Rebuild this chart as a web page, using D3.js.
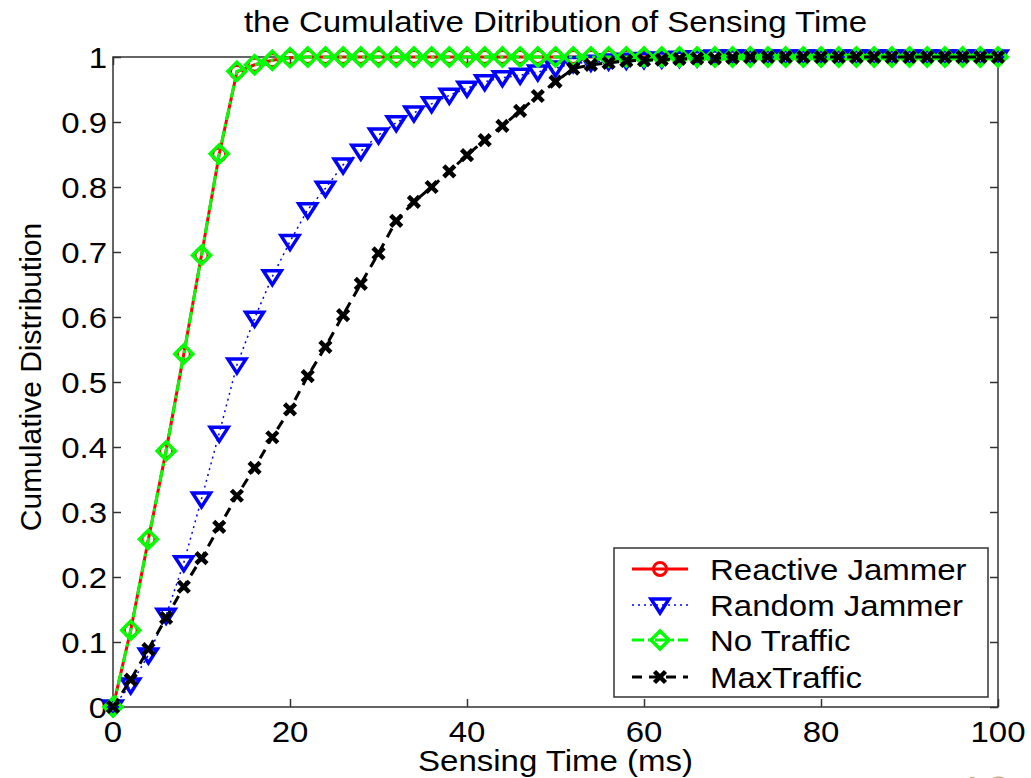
<!DOCTYPE html>
<html>
<head>
<meta charset="utf-8">
<script src="https://cdn.jsdelivr.net/npm/d3@7"></script>
<style>
  body { margin: 0; background: #fff; }
  svg { display: block; font-family: "Liberation Sans", Arial, Helvetica, sans-serif; }
</style>
</head>
<body>
<svg id="chart"></svg>
<script>
const sensingTime = [0, 2, 4, 6, 8, 10, 12, 14, 16, 18, 20, 22, 24, 26, 28, 30, 32, 34, 36, 38,
  40, 42, 44, 46, 48, 50, 52, 54, 56, 58, 60, 62, 64, 66, 68, 70, 72, 74, 76, 78,
  80, 82, 84, 86, 88, 90, 92, 94, 96, 98, 100];

const reactiveJammer = [0, 0.118, 0.258, 0.394, 0.543, 0.695, 0.850, 0.977, 0.988, 0.995,
  0.999, 1, 1, 1, 1, 1, 1, 1, 1, 1, 1, 1, 1, 1, 1, 1, 1, 1, 1, 1, 1, 1, 1, 1, 1, 1, 1, 1, 1, 1,
  1, 1, 1, 1, 1, 1, 1, 1, 1, 1, 1];

const randomJammer = [0, 0.034, 0.080, 0.141, 0.222, 0.320, 0.421, 0.526, 0.598, 0.662,
  0.716, 0.765, 0.798, 0.834, 0.855, 0.880, 0.899, 0.914, 0.928, 0.941,
  0.952, 0.962, 0.968, 0.972, 0.977, 0.983, 0.990, 0.992, 0.994, 0.995,
  0.996, 0.997, 0.998, 0.999, 1, 1, 1, 1, 1, 1, 1, 1, 1, 1, 1, 1, 1, 1, 1, 1, 1];

const noTraffic = [0, 0.118, 0.258, 0.394, 0.543, 0.695, 0.851, 0.978, 0.988, 0.995,
  0.999, 1, 1, 1, 1, 1, 1, 1, 1, 1, 1, 1, 1, 1, 1, 1, 1, 1, 1, 1, 1, 1, 1, 1, 1, 1, 1, 1, 1, 1,
  1, 1, 1, 1, 1, 1, 1, 1, 1, 1, 1];

const maxTraffic = [0, 0.042, 0.089, 0.137, 0.185, 0.229, 0.277, 0.325, 0.368, 0.415,
  0.458, 0.509, 0.554, 0.603, 0.651, 0.698, 0.748, 0.777, 0.800, 0.824,
  0.849, 0.872, 0.894, 0.917, 0.940, 0.962, 0.982, 0.988, 0.991, 0.994,
  0.995, 0.996, 0.997, 0.998, 0.998, 0.999, 1, 1, 1, 1, 1, 1, 1, 1, 1, 1, 1, 1, 1, 1, 1];

const seriesNames = ['Reactive Jammer', 'Random Jammer', 'No Traffic', 'MaxTraffic'];
const xTicks = [0, 20, 40, 60, 80, 100];
const yTicks = [0, 0.1, 0.2, 0.3, 0.4, 0.5, 0.6, 0.7, 0.8, 0.9, 1];
const yTickLabels = ['0', '0.1', '0.2', '0.3', '0.4', '0.5', '0.6', '0.7', '0.8', '0.9', '1'];

const width = 1031;
const height = 778;
const plotLeft = 113, plotRight = 998, plotTop = 57, plotBottom = 707;
const stretch = 1.1;
const fontSize = 30;
const axisColor = '#333';

const svg = d3.select('#chart')
  .attr('width', width)
  .attr('height', height);

svg.append('rect').attr('width', width).attr('height', height).attr('fill', '#fff');

const x = d3.scaleLinear().domain([0, 100]).range([plotLeft, plotRight]);
const y = d3.scaleLinear().domain([0, 1]).range([plotBottom, plotTop]);

// text helper: slightly wider glyphs like the original export
const addText = (g, tx, ty, str, anchor) => g.append('text')
  .attr('transform', `translate(${tx},${ty}) scale(${stretch},1)`)
  .attr('text-anchor', anchor || 'middle')
  .attr('font-size', fontSize)
  .attr('fill', '#000')
  .text(str);

// ticks (inside, on all four sides)
const tickLen = 8;
const axisStyle = g => {
  g.select('.domain').remove();
  g.selectAll('.tick line').attr('stroke', axisColor).attr('stroke-width', 1.5);
};

svg.append('g')
  .attr('transform', `translate(0,${plotBottom})`)
  .call(d3.axisBottom(x).tickValues(xTicks).tickSize(-tickLen).tickFormat(''))
  .call(axisStyle);
svg.append('g')
  .attr('transform', `translate(0,${plotTop})`)
  .call(d3.axisTop(x).tickValues(xTicks).tickSize(-tickLen).tickFormat(''))
  .call(axisStyle);
svg.append('g')
  .attr('transform', `translate(${plotLeft},0)`)
  .call(d3.axisLeft(y).tickValues(yTicks).tickSize(-tickLen).tickFormat(''))
  .call(axisStyle);
svg.append('g')
  .attr('transform', `translate(${plotRight},0)`)
  .call(d3.axisRight(y).tickValues(yTicks).tickSize(-tickLen).tickFormat(''))
  .call(axisStyle);

// frame
svg.append('rect')
  .attr('x', plotLeft).attr('y', plotTop)
  .attr('width', plotRight - plotLeft).attr('height', plotBottom - plotTop)
  .attr('fill', 'none')
  .attr('stroke', axisColor)
  .attr('stroke-width', 1.5);

// tick labels
const labels = svg.append('g');
xTicks.forEach(t => addText(labels, x(t), 742, String(t)));
yTicks.forEach((t, i) => addText(labels, 107, y(t) + 10.5, yTickLabels[i], 'end'));

// titles
addText(svg, (plotLeft + plotRight) / 2, 32, 'the Cumulative Ditribution of Sensing Time');
addText(svg, (plotLeft + plotRight) / 2, 771, 'Sensing Time (ms)');
svg.append('text')
  .attr('transform', 'translate(41,377) rotate(-90)')
  .attr('text-anchor', 'middle')
  .attr('font-size', fontSize)
  .text('Cumulative Distribution');

// series
const markers = {
  circle: (g, c) => g.append('circle').attr('r', 6.5).attr('fill', 'none')
    .attr('stroke', c).attr('stroke-width', 3),
  triangle: (g, c) => g.append('path').attr('d', 'M-9,-6L9,-6L0,8Z').attr('fill', 'none')
    .attr('stroke', c).attr('stroke-width', 3.5).attr('stroke-linejoin', 'miter'),
  diamond: (g, c) => g.append('path').attr('d', 'M0,-9L9,0L0,9L-9,0Z').attr('fill', 'none')
    .attr('stroke', c).attr('stroke-width', 3.5),
  cross: (g, c) => g.append('path').attr('d', 'M-5.5,-5.5L5.5,5.5M-5.5,5.5L5.5,-5.5').attr('fill', 'none')
    .attr('stroke', c).attr('stroke-width', 4.5)
};

const series = [
  { name: seriesNames[0], values: reactiveJammer, color: '#ff0000', dash: null, width: 3, marker: 'circle' },
  { name: seriesNames[1], values: randomJammer, color: '#0000ff', dash: '2,4', width: 1.5, marker: 'triangle' },
  { name: seriesNames[2], values: noTraffic, color: '#00ff00', dash: '12,4,3,4', width: 3, marker: 'diamond' },
  { name: seriesNames[3], values: maxTraffic, color: '#000000', dash: '10,7', width: 3, marker: 'cross' }
];

const line = d3.line()
  .x((d, i) => x(sensingTime[i]))
  .y(d => y(d));

// draw order: red, blue, green, black (so later series lie on top)
series.forEach(s => {
  const g = svg.append('g');
  g.append('path')
    .datum(s.values)
    .attr('d', line)
    .attr('fill', 'none')
    .attr('stroke', s.color)
    .attr('stroke-width', s.width)
    .attr('stroke-dasharray', s.dash);
  s.values.forEach((v, i) => {
    const m = g.append('g').attr('transform', `translate(${x(sensingTime[i])},${y(v)})`);
    markers[s.marker](m, s.color);
  });
});

// legend
const legend = svg.append('g');
legend.append('rect')
  .attr('x', 614).attr('y', 548)
  .attr('width', 374).attr('height', 149)
  .attr('fill', '#fff')
  .attr('stroke', axisColor)
  .attr('stroke-width', 1.5);

const rowY = [569, 605, 640, 677];
series.forEach((s, i) => {
  const g = legend.append('g').attr('transform', `translate(0,${rowY[i]})`);
  g.append('line')
    .attr('x1', 632).attr('x2', 688)
    .attr('stroke', s.color)
    .attr('stroke-width', s.width)
    .attr('stroke-dasharray', s.dash);
  markers[s.marker](g.append('g').attr('transform', 'translate(660,0)'), s.color);
  addText(g, 710, 11, s.name, 'start');
});

// slide page number peeking in at the bottom edge
svg.append('text')
  .attr('x', 985).attr('y', 810)
  .attr('text-anchor', 'middle')
  .attr('font-size', 48)
  .attr('fill', '#c2b088')
  .text('10');
</script>
</body>
</html>
